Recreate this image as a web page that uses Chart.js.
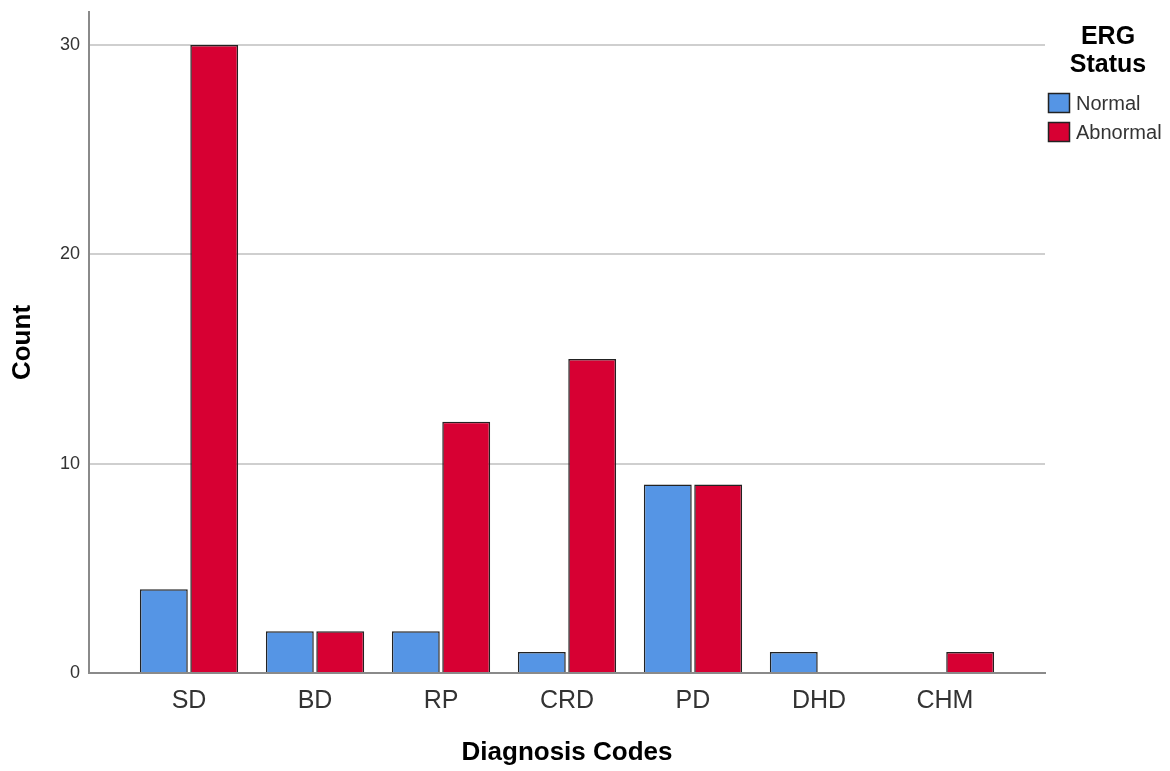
<!DOCTYPE html>
<html>
<head>
<meta charset="utf-8">
<script src="https://cdn.jsdelivr.net/npm/chart.js@4"></script>
<style>
  html, body { margin: 0; padding: 0; background: #fff; }
  #wrap { width: 1170px; height: 771px; }
</style>
</head>
<body>
<div id="wrap"><canvas id="chart" width="1170" height="771"></canvas></div>
<script>
const categories = ["SD", "BD", "RP", "CRD", "PD", "DHD", "CHM"];
const normal = [4, 2, 2, 1, 9, 1, 0];
const abnormal = [30, 2, 12, 15, 9, 0, 1];
const yTicks = [0, 10, 20, 30];

const FONT = "'Liberation Sans', Arial, sans-serif";

// legend with a two-line title, drawn by hand
const sideLegend = {
    id: "sideLegend",
    afterDraw(chart) {
        const c = chart.ctx;
        c.save();
        c.fillStyle = "#000";
        c.font = "bold 25px " + FONT;
        c.textAlign = "center";
        c.textBaseline = "middle";
        c.fillText("ERG", 1108, 37);
        c.fillText("Status", 1108, 65);
        c.font = "20px " + FONT;
        c.textAlign = "left";
        chart.data.datasets.forEach((ds, i) => {
            const y = 93 + i * 29;
            c.fillStyle = ds.backgroundColor;
            c.fillRect(1048, y, 22, 20);
            c.strokeStyle = "#222";
            c.lineWidth = 1.5;
            c.strokeRect(1048.5, y + 0.5, 21, 19);
            c.fillStyle = "#333";
            c.fillText(ds.label, 1076, y + 11);
        });
        c.restore();
    }
};

new Chart(document.getElementById("chart"), {
    type: "bar",
    data: {
        datasets: [
            {
                label: "Normal",
                data: normal.map((v, i) => ({ x: i, y: v })),
                backgroundColor: "#5595E5",
                borderColor: "#222",
                borderWidth: 1.5,
            },
            {
                label: "Abnormal",
                data: abnormal.map((v, i) => ({ x: i, y: v })),
                backgroundColor: "#D70033",
                borderColor: "#222",
                borderWidth: 1.5,
            },
        ],
    },
    options: {
        responsive: false,
        animation: false,
        categoryPercentage: 0.8,
        barPercentage: 0.95,
        layout: { padding: { left: 0, right: 125, top: 12, bottom: 0 } },
        plugins: {
            legend: { display: false },
            tooltip: { enabled: false },
        },
        scales: {
            x: {
                type: "linear",
                min: -0.794,
                max: 6.794,
                offset: false,
                afterBuildTicks: (s) => { s.ticks = categories.map((_, i) => ({ value: i })); },
                afterFit: (s) => { s.height = 98; s.paddingLeft = 0; s.paddingRight = 0; },
                grid: { display: false, drawTicks: false },
                border: { display: true, color: "#8a8a8a", width: 2 },
                ticks: {
                    callback: (v) => categories[v],
                    padding: 13,
                    color: "#333",
                    font: { family: FONT, size: 25 },
                    maxRotation: 0,
                },
                title: {
                    display: true,
                    text: "Diagnosis Codes",
                    color: "#000",
                    font: { family: FONT, size: 26, weight: "bold" },
                    padding: { top: 0, bottom: 3 },
                },
            },
            y: {
                min: 0,
                max: 31.58,
                afterBuildTicks: (s) => { s.ticks = yTicks.map((v) => ({ value: v })); },
                afterFit: (s) => { s.width = 89; s.paddingTop = 0; s.paddingBottom = 0; },
                grid: {
                    drawTicks: false,
                    color: (ctx) => (ctx.tick && ctx.tick.value === 0 ? "rgba(0,0,0,0)" : "#cfcfcf"),
                    lineWidth: 2,
                },
                border: { display: true, color: "#8a8a8a", width: 2 },
                ticks: {
                    padding: 9,
                    color: "#333",
                    font: { family: FONT, size: 18 },
                },
                title: {
                    display: true,
                    text: "Count",
                    color: "#000",
                    font: { family: FONT, size: 26, weight: "bold" },
                    padding: { top: 7, bottom: 0 },
                },
            },
        },
    },
    plugins: [sideLegend],
});
</script>
</body>
</html>
